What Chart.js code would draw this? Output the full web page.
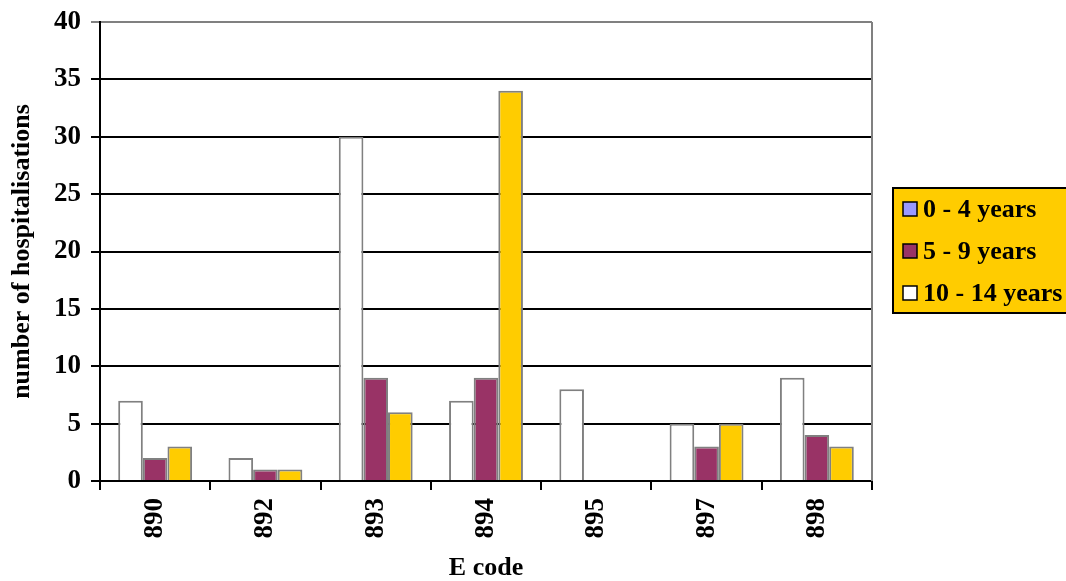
<!DOCTYPE html>
<html>
<head>
<meta charset="utf-8">
<script src="https://cdn.jsdelivr.net/npm/chart.js@4.4.1/dist/chart.umd.min.js"></script>
<style>
  html, body { margin: 0; padding: 0; background: #fff; }
  #wrap { width: 1066px; height: 581px; }
</style>
</head>
<body>
<div id="wrap"><canvas id="chart"></canvas></div>
<script>
const codes = ['890', '892', '893', '894', '895', '897', '898'];
const ageGroups = ['0 - 4 years', '5 - 9 years', '10 - 14 years'];
const white = [7, 2, 30, 7, 8, 5, 9];
const maroon = [2, 1, 9, 9, 0, 3, 4];
const yellow = [3, 1, 6, 34, 0, 5, 3];
const yTicks = [0, 5, 10, 15, 20, 25, 30, 35, 40];

const barColors = ['#FFFFFF', '#993366', '#FFCC00'];
const legendColors = ['#9999FF', '#993366', '#FFFFFF'];
const FONT = "'Liberation Serif', 'Times New Roman', serif";

// legend box on the right, yellow with black frame
const legendBox = {
  id: 'legendBox',
  afterDraw(chart) {
    const ctx = chart.ctx;
    const area = chart.chartArea;
    ctx.save();
    // gray frame on the right side of the plot
    ctx.strokeStyle = '#808080';
    ctx.lineWidth = 2;
    ctx.beginPath();
    ctx.moveTo(area.right, area.top);
    ctx.lineTo(area.right, area.bottom);
    ctx.stroke();

    const x = 893, y = 188, w = 200, h = 125;
    ctx.fillStyle = '#FFCC00';
    ctx.fillRect(x, y, w, h);
    ctx.strokeStyle = '#000';
    ctx.lineWidth = 2;
    ctx.strokeRect(x, y, w, h);

    ctx.font = 'bold 26px ' + FONT;
    ctx.textBaseline = 'middle';
    ctx.textAlign = 'left';
    chart.data.datasets.forEach((ds, i) => {
      const cy = 209 + i * 42;
      ctx.fillStyle = legendColors[i];
      ctx.fillRect(903, cy - 7, 14, 14);
      ctx.strokeStyle = '#000';
      ctx.lineWidth = 1.5;
      ctx.strokeRect(903, cy - 7, 14, 14);
      ctx.fillStyle = '#000';
      ctx.fillText(ds.label, 923, cy + 1);
    });
    ctx.restore();
  }
};

const series = [white, maroon, yellow];

new Chart(document.getElementById('chart'), {
  type: 'bar',
  data: {
    labels: codes,
    datasets: series.map((vals, i) => ({
      label: ageGroups[i],
      data: vals,
      backgroundColor: barColors[i],
      borderColor: '#808080',
      borderWidth: 2,
      categoryPercentage: 0.67,
      barPercentage: 1.0
    }))
  },
  options: {
    responsive: true,
    maintainAspectRatio: false,
    animation: false,
    layout: { padding: { top: 22, right: 194, left: 0, bottom: 0 } },
    plugins: {
      legend: { display: false },
      tooltip: { enabled: false }
    },
    scales: {
      x: {
        afterFit(scale) { scale.height = 100; },
        grid: {
          display: true,
          drawOnChartArea: false,
          offset: true,
          color: '#000',
          lineWidth: 2,
          tickLength: 9
        },
        border: { color: '#000', width: 2 },
        ticks: {
          color: '#000',
          font: { family: FONT, size: 27, weight: 'bold' },
          minRotation: 90,
          maxRotation: 90,
          padding: 8
        },
        title: {
          display: true,
          text: 'E code',
          color: '#000',
          font: { family: FONT, size: 26, weight: 'bold', lineHeight: 1 },
          padding: 0
        }
      },
      y: {
        min: 0,
        max: 40,
        afterFit(scale) { scale.width = 100; },
        afterBuildTicks(scale) { scale.ticks = yTicks.map(v => ({ value: v })); },
        grid: {
          color: ctx => (ctx.tick && ctx.tick.value === 40 ? '#808080' : '#000'),
          lineWidth: 2,
          tickLength: 9
        },
        border: { color: '#000', width: 2 },
        ticks: {
          color: '#000',
          font: { family: FONT, size: 27, weight: 'bold', lineHeight: 0.8 },
          padding: 10
        },
        title: {
          display: true,
          text: 'number of hospitalisations',
          color: '#000',
          font: { family: FONT, size: 26, weight: 'bold', lineHeight: 1 },
          padding: { top: 9, bottom: 0 }
        }
      }
    }
  },
  plugins: [legendBox]
});
</script>
</body>
</html>
